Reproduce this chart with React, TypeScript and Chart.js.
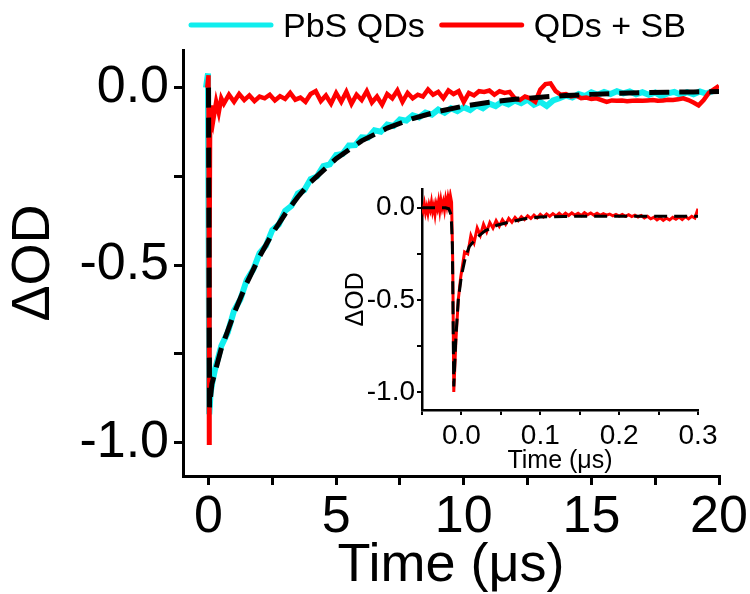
import React, { useEffect, useRef } from 'react';
import { Chart, registerables } from 'chart.js';

Chart.register(...registerables);

const FONT = '"Liberation Sans", Arial, Helvetica, sans-serif';

// ---------------- main panel data ----------------
const CYAN_LABEL = 'PbS QDs';
const RED_LABEL = 'QDs + SB';

const cyanTime = [-0.1, -0.02, 0.03, 0.08, 0.15,
  0.25, 0.5, 0.75, 1.0, 1.25, 1.5, 1.75, 2.0, 2.25, 2.5, 2.75, 3.0, 3.25, 3.5, 3.75, 4.0,
  4.25, 4.5, 4.75, 5.0, 5.25, 5.5, 5.75, 6.0, 6.25, 6.5, 6.75, 7.0, 7.25, 7.5, 7.75, 8.0,
  8.25, 8.5, 8.75, 9.0, 9.25, 9.5, 9.75, 10.0, 10.25, 10.5, 10.75, 11.0, 11.25, 11.5, 11.75, 12.0,
  12.25, 12.5, 12.75, 13.0, 13.25, 13.5, 13.75, 14.0, 14.25, 14.5, 14.75, 15.0, 15.25, 15.5, 15.75, 16.0,
  16.25, 16.5, 16.75, 17.0, 17.25, 17.5, 17.75, 18.0, 18.25, 18.5, 18.75, 19.0, 19.25, 19.5, 19.75];
const cyanValues = [0.0, 0.04, -0.92, -0.86, -0.83,
  -0.795, -0.728, -0.690, -0.628, -0.596, -0.541, -0.513, -0.466, -0.445, -0.401, -0.386, -0.347, -0.333, -0.298, -0.289, -0.258,
  -0.250, -0.221, -0.216, -0.190, -0.187, -0.163, -0.162, -0.140, -0.141, -0.120, -0.124, -0.104, -0.108, -0.090, -0.093, -0.078,
  -0.084, -0.070, -0.076, -0.062, -0.071, -0.058, -0.066, -0.055, -0.063, -0.050, -0.058, -0.045, -0.052, -0.040, -0.047, -0.036,
  -0.044, -0.034, -0.048, -0.040, -0.052, -0.036, -0.030, -0.022, -0.028, -0.018, -0.024, -0.013, -0.020, -0.012, -0.018, -0.010,
  -0.016, -0.011, -0.019, -0.013, -0.020, -0.014, -0.024, -0.016, -0.012, -0.020, -0.013, -0.019, -0.011, -0.017, -0.010];

const redTime = [-0.05, 0.0, 0.02, 0.04, 0.06, 0.08, 0.1, 0.15, 0.2, 0.3, 0.4, 0.5,
  0.6, 0.8, 1.0, 1.2, 1.4, 1.6, 1.8, 2.0, 2.2, 2.4, 2.6, 2.8, 3.0, 3.2, 3.4, 3.6, 3.8, 4.0,
  4.2, 4.4, 4.6, 4.8, 5.0, 5.2, 5.4, 5.6, 5.8, 6.0, 6.2, 6.4, 6.6, 6.8, 7.0, 7.2, 7.4, 7.6, 7.8, 8.0,
  8.2, 8.4, 8.6, 8.8, 9.0, 9.2, 9.4, 9.6, 9.8, 10.0, 10.2, 10.4, 10.6, 10.8, 11.0, 11.2, 11.4, 11.6, 11.8, 12.0,
  12.2, 12.4, 12.6, 12.8, 13.0, 13.2, 13.4, 13.6, 13.8, 14.0, 14.2, 14.4, 14.6, 14.8, 15.0, 15.2, 15.4, 15.6, 15.8, 16.0,
  16.2, 16.4, 16.6, 16.8, 17.0, 17.2, 17.4, 17.6, 17.8, 18.0, 18.2, 18.4, 18.6, 18.8, 19.0, 19.2, 19.4, 19.6, 19.8, 20.0];
const redValues = [0.0, 0.035, -1.0, -0.45, -0.12, -0.06, -0.095, -0.05, -0.085, -0.04, -0.07, -0.03,
  -0.045, -0.020, -0.040, -0.018, -0.035, -0.022, -0.038, -0.025, -0.030, -0.020, -0.036, -0.024, -0.032, -0.015, -0.034, -0.028, -0.040, -0.018,
  -0.010, -0.038, -0.022, -0.045, -0.015, -0.040, -0.012, -0.046, -0.020, -0.035, -0.010, -0.042, -0.025, -0.048, -0.018, -0.030, -0.008, -0.040, -0.015, -0.030,
  -0.020, -0.025, -0.005, -0.020, -0.012, -0.030, -0.008, -0.018, -0.010, -0.040, -0.015, -0.022, -0.010, -0.012, -0.008, -0.020, -0.010, -0.015, -0.012, -0.030,
  -0.035, -0.025, -0.030, -0.040, -0.005, 0.010, 0.012, -0.010, -0.020, -0.018, -0.025, -0.022, -0.030, -0.028, -0.032, -0.030, -0.035, -0.040, -0.036, -0.037,
  -0.036, -0.038, -0.037, -0.036, -0.037, -0.036, -0.035, -0.037, -0.036, -0.034, -0.035, -0.033, -0.030, -0.035, -0.042, -0.050, -0.035, -0.015, -0.005, 0.005];

const fitTime = [0.0, 0.04, 0.13, 0.5, 1.0, 1.5, 2.0, 2.5, 3.0, 3.5, 4.0, 5.0, 6.0, 7.0, 8.0, 9.0,
  10.0, 11.0, 12.0, 13.0, 14.0, 15.0, 16.0, 17.0, 18.0, 19.0, 20.0];
const fitValues = [0.0, -0.90, -0.835, -0.735, -0.636, -0.550, -0.476, -0.411, -0.356, -0.308, -0.266, -0.200, -0.150, -0.114, -0.087, -0.067,
  -0.052, -0.041, -0.033, -0.027, -0.022, -0.019, -0.016, -0.014, -0.013, -0.012, -0.011];

const mainXTicks = [0, 2.5, 5, 7.5, 10, 12.5, 15, 17.5, 20];
const mainYTicks = [0, -0.25, -0.5, -0.75, -1.0];

// ---------------- inset data ----------------
const insetRedTime = [-0.05, -0.0485, -0.047, -0.0455, -0.044, -0.0425, -0.041, -0.0395, -0.038, -0.0365,
  -0.035, -0.0335, -0.032, -0.0305, -0.029, -0.0275, -0.026, -0.0245, -0.023, -0.0215,
  -0.02, -0.0185, -0.017, -0.0155, -0.014, -0.0125,
  -0.011, -0.0097, -0.007, -0.004, -0.001,
  0.004, 0.008, 0.012, 0.016, 0.02, 0.024, 0.028, 0.032, 0.036, 0.04,
  0.044, 0.048, 0.052, 0.056, 0.06, 0.064, 0.068, 0.072, 0.076, 0.08,
  0.084, 0.088, 0.092, 0.096, 0.1, 0.104, 0.108, 0.112, 0.116, 0.12,
  0.124, 0.128, 0.132, 0.136, 0.14, 0.144, 0.148, 0.152, 0.156, 0.16,
  0.164, 0.168, 0.172, 0.176, 0.18, 0.184, 0.188, 0.192, 0.196, 0.2,
  0.204, 0.208, 0.212, 0.216, 0.22, 0.224, 0.228, 0.232, 0.236, 0.24,
  0.244, 0.248, 0.252, 0.256, 0.26, 0.264, 0.268, 0.272, 0.276, 0.28,
  0.284, 0.288, 0.292, 0.296, 0.3];
const insetRedValues = [0.010, -0.015, 0.020, -0.025, 0.005, -0.030, 0.015, -0.010, 0.030, -0.020,
  0.010, -0.035, 0.020, -0.005, 0.035, -0.015, 0.040, 0.000, 0.030, -0.010,
  0.045, 0.010, 0.055, 0.020, 0.065, 0.030,
  -0.30, -1.0, -0.72, -0.50, -0.38,
  -0.24, -0.25, -0.15, -0.19, -0.11, -0.15, -0.09, -0.13, -0.08, -0.11,
  -0.07, -0.10, -0.065, -0.09, -0.058, -0.078, -0.052, -0.07, -0.048, -0.064,
  -0.044, -0.058, -0.040, -0.055, -0.036, -0.05, -0.034, -0.047, -0.032, -0.045,
  -0.030, -0.044, -0.029, -0.042, -0.028, -0.040, -0.030, -0.042, -0.026, -0.038,
  -0.028, -0.040, -0.030, -0.041, -0.032, -0.040, -0.034, -0.044, -0.036, -0.045,
  -0.036, -0.046, -0.038, -0.048, -0.040, -0.050, -0.042, -0.055, -0.046, -0.060,
  -0.052, -0.066, -0.054, -0.068, -0.056, -0.066, -0.052, -0.062, -0.050, -0.064,
  -0.048, -0.060, -0.046, -0.056, -0.005];

const insetFitTime = [-0.05, -0.02, -0.016, -0.013, -0.0115, -0.0097, -0.007, -0.004, 0.0, 0.005, 0.01,
  0.02, 0.03, 0.045, 0.06, 0.08, 0.1, 0.13, 0.16, 0.2, 0.3];
const insetFitValues = [0.0, 0.0, -0.005, -0.04, -0.2, -0.97, -0.70, -0.50, -0.37, -0.27, -0.21,
  -0.16, -0.125, -0.095, -0.078, -0.06, -0.05, -0.047, -0.046, -0.046, -0.046];

const insetXTicks = [-0.05, 0, 0.05, 0.1, 0.15, 0.2, 0.25, 0.3];
const insetYTicks = [0, -0.25, -0.5, -0.75, -1.0];

// ---------------- helpers ----------------
const toXY = (xs: number[], ys: number[]) => xs.map((x, i) => ({ x, y: ys[i] }));
const isMultiple = (v: number, step: number) => Math.abs(v / step - Math.round(v / step)) < 1e-6;

function makeAxis(o: any) {
  return {
    type: 'linear',
    min: o.min,
    max: o.max,
    afterBuildTicks: (scale: any) => {
      scale.ticks = o.ticks.map((v: number) => ({ value: v }));
    },
    afterFit: (scale: any) => {
      if (o.width !== undefined) scale.width = o.width;
      if (o.height !== undefined) scale.height = o.height;
    },
    border: { display: true, color: '#000', width: o.borderWidth },
    grid: {
      display: true,
      drawOnChartArea: false,
      drawTicks: true,
      tickLength: o.tickLength,
      tickWidth: o.tickWidth,
      tickColor: '#000',
      color: '#000',
      lineWidth: o.tickWidth,
    },
    ticks: {
      autoSkip: false,
      maxRotation: 0,
      minRotation: 0,
      padding: o.tickPadding,
      color: '#000',
      font: { family: FONT, size: o.tickFont, lineHeight: 1.2 },
      callback: (value: number) => {
        if (!isMultiple(value, o.labelStep)) return '';
        const v = Math.abs(value) < 1e-9 ? 0 : value;
        return o.decimals > 0 ? v.toFixed(o.decimals) : String(Math.round(v));
      },
    },
    title: {
      display: true,
      text: o.title,
      color: '#000',
      font: { family: FONT, size: o.titleFont, lineHeight: 1 },
      padding: o.titlePadding,
    },
  };
}

const legendOrder = [2, 1];
const mainLegendPlugin = {
  id: 'mainLegend',
  afterDraw(chart: any) {
    const { ctx } = chart;
    ctx.save();
    ctx.font = `34px ${FONT}`;
    ctx.textBaseline = 'alphabetic';
    ctx.lineCap = 'round';
    let x = 189;
    legendOrder.forEach((idx) => {
      const ds = chart.data.datasets[idx];
      ctx.strokeStyle = ds.borderColor;
      ctx.lineWidth = 5;
      ctx.beginPath();
      ctx.moveTo(x + 2, 25);
      ctx.lineTo(x + 82, 25);
      ctx.stroke();
      x += 94;
      ctx.fillStyle = '#000';
      ctx.fillText(ds.label, x, 37);
      x += ctx.measureText(ds.label).width + 15;
    });
    ctx.restore();
  },
};

const CYAN = '#10eeee';
const RED = '#ff0000';

export default function App() {
  const mainRef = useRef<HTMLCanvasElement>(null);
  const insetRef = useRef<HTMLCanvasElement>(null);

  useEffect(() => {
    const main = new Chart(mainRef.current as HTMLCanvasElement, {
      type: 'scatter',
      data: {
        datasets: [
          {
            label: 'Fit',
            data: toXY(fitTime, fitValues),
            showLine: true,
            borderColor: '#000',
            borderWidth: 5,
            borderDash: [20, 10],
            pointRadius: 0,
            tension: 0,
          },
          {
            label: RED_LABEL,
            data: toXY(redTime, redValues),
            showLine: true,
            borderColor: RED,
            borderWidth: 4.5,
            pointRadius: 0,
            tension: 0,
          },
          {
            label: CYAN_LABEL,
            data: toXY(cyanTime, cyanValues),
            showLine: true,
            borderColor: CYAN,
            borderWidth: 6,
            pointRadius: 0,
            tension: 0,
          },
        ],
      } as any,
      options: {
        responsive: false,
        animation: false,
        devicePixelRatio: 1,
        layout: { padding: { top: 50, right: 31, left: 0, bottom: 0 } },
        plugins: { legend: { display: false }, tooltip: { enabled: false } },
        scales: {
          x: makeAxis({
            min: -1.0, max: 20, ticks: mainXTicks, labelStep: 5, decimals: 0,
            height: 118, borderWidth: 3, tickLength: 9, tickWidth: 3, tickPadding: 1,
            tickFont: 52, title: 'Time (\u03bcs)', titleFont: 54, titlePadding: { top: 0, bottom: 1 },
          }),
          y: makeAxis({
            min: -1.094, max: 0.106, ticks: mainYTicks, labelStep: 0.5, decimals: 1,
            width: 183, borderWidth: 3, tickLength: 9, tickWidth: 3, tickPadding: 5,
            tickFont: 52, title: '\u0394OD', titleFont: 54, titlePadding: { top: 7, bottom: 0 },
          }),
        } as any,
      },
      plugins: [mainLegendPlugin],
    });

    const inset = new Chart(insetRef.current as HTMLCanvasElement, {
      type: 'scatter',
      data: {
        datasets: [
          {
            label: 'Fit',
            data: toXY(insetFitTime, insetFitValues),
            showLine: true,
            borderColor: '#000',
            borderWidth: 3,
            borderDash: [13, 7],
            pointRadius: 0,
            tension: 0,
          },
          {
            label: RED_LABEL,
            data: toXY(insetRedTime, insetRedValues),
            showLine: true,
            borderColor: RED,
            borderWidth: 3,
            pointRadius: 0,
            tension: 0,
          },
        ],
      } as any,
      options: {
        responsive: false,
        animation: false,
        devicePixelRatio: 1,
        layout: { padding: { top: 15, right: 32, left: 0, bottom: 0 } },
        plugins: { legend: { display: false }, tooltip: { enabled: false } },
        scales: {
          x: makeAxis({
            min: -0.05, max: 0.3, ticks: insetXTicks, labelStep: 0.1, decimals: 1,
            height: 70, borderWidth: 2.5, tickLength: 5, tickWidth: 2, tickPadding: 4,
            tickFont: 28, title: 'Time (\u03bcs)', titleFont: 25, titlePadding: { top: 0, bottom: 6 },
          }),
          y: makeAxis({
            min: -1.098, max: 0.103, ticks: insetYTicks, labelStep: 0.5, decimals: 1,
            width: 92, borderWidth: 2.5, tickLength: 5, tickWidth: 2, tickPadding: 2,
            tickFont: 28, title: '\u0394OD', titleFont: 25, titlePadding: { top: 14, bottom: 0 },
          }),
        } as any,
      },
    });

    return () => {
      main.destroy();
      inset.destroy();
    };
  }, []);

  return (
    <div style={{ position: 'fixed', left: 0, top: 0, width: 750, height: 594, background: '#fff', overflow: 'hidden' }}>
      <canvas
        ref={mainRef}
        width={750}
        height={594}
        style={{ position: 'absolute', left: 0, top: 0, width: 750, height: 594 }}
      />
      <canvas
        ref={insetRef}
        width={400}
        height={310}
        style={{ position: 'absolute', left: 330, top: 170, width: 400, height: 310 }}
      />
    </div>
  );
}
